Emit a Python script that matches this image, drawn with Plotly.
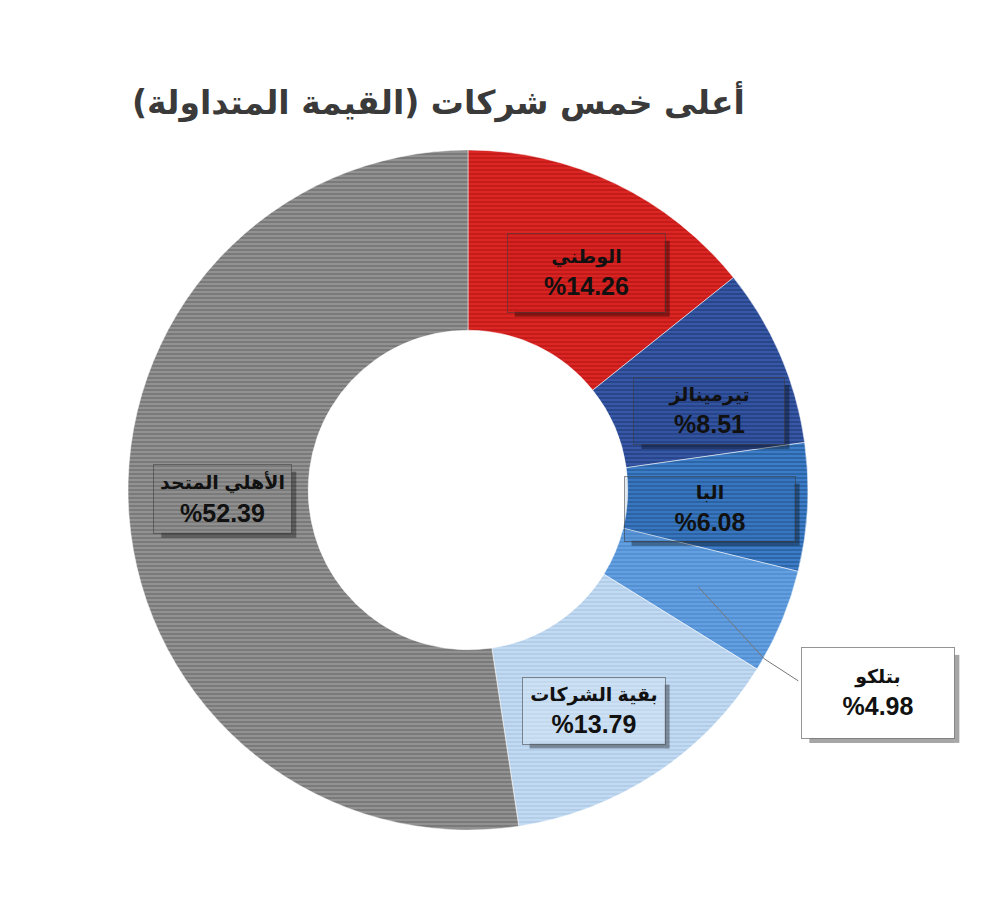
import math
import plotly.graph_objects as go

# ---- data ----
labels = ["الوطني", "تيرمينالز", "البا", "بتلكو", "بقية الشركات", "الأهلي المتحد"]
values = [14.26, 8.51, 6.08, 4.98, 13.79, 52.39]
title_text = "أعلى خمس شركات (القيمة المتداولة)"

# ---- style ----
colors = ["#dc2624", "#3658a6", "#3c7cc8", "#62a0e2", "#c2dbf3", "#929292"]
stripe = ["#b51514", "#213a78", "#22578f", "#4a86c8", "#a9c5e2", "#6a6a6a"]
box_bg = ["rgba(180,20,20,0.12)", "rgba(30,55,120,0.12)", "rgba(30,85,150,0.12)",
          "rgba(255,255,255,1)", "rgba(225,238,250,0.35)", "rgba(120,120,120,0.12)"]
box_w = [155, 148, 168, 150, 140, 135]
box_h = [76, 64, 62, 88, 64, 66]
shift = [(10, 8), (12, 20), (-8, 6), (0, 0), (-12, 12), (4, -10)]

W, H = 1000, 910
cx, cy, R = 468, 490, 340
hole = 0.47

fig = go.Figure(go.Pie(
    labels=labels, values=values, sort=False, direction="clockwise", rotation=0,
    hole=hole, textinfo="none", hoverinfo="label+percent", showlegend=False,
    marker=dict(colors=colors, line=dict(color="rgba(255,255,255,0.5)", width=1),
                pattern=dict(shape="-", fgcolor=stripe, bgcolor=colors, fillmode="overlay",
                             size=4, solidity=0.3, fgopacity=1)),
    domain=dict(x=[(cx - R) / W, (cx + R) / W], y=[1 - (cy + R) / H, 1 - (cy - R) / H]),
))

total = sum(values)
cum = 0
annotations = []
shapes = []
rmid = R * (1 + hole) / 2


def rect(x0, y0, x1, y1, color):
    return dict(type="rect", xref="paper", yref="paper", layer="above",
                x0=x0 / W, x1=x1 / W, y0=1 - y1 / H, y1=1 - y0 / H,
                fillcolor=color, line=dict(width=0))


for i, (lab, v) in enumerate(zip(labels, values)):
    mid = (cum + v / 2) / total * 2 * math.pi
    cum += v
    px = cx + rmid * math.sin(mid)
    py = cy - rmid * math.cos(mid)
    if i == 3:
        # outside label with leader line
        lx, ly = px + 180, py + 106
        ex, ey = px + 66, py + 72
        shapes.append(dict(type="path", xref="paper", yref="paper",
                           path=f"M {px/W},{1-py/H} L {ex/W},{1-ey/H} L {(ex+34)/W},{1-(ey+22)/H}",
                           line=dict(color="#777", width=1)))
    else:
        lx, ly = px + shift[i][0], py + shift[i][1]
    w, h = box_w[i], box_h[i]
    # shadow strips (right and bottom)
    shapes.append(rect(lx + w / 2 + 1, ly - h / 2 + 6, lx + w / 2 + 6, ly + h / 2 + 6,
                       "rgba(0,0,0,0.35)"))
    shapes.append(rect(lx - w / 2 + 6, ly + h / 2 + 1, lx + w / 2 + 1, ly + h / 2 + 6,
                       "rgba(0,0,0,0.35)"))
    txt = (f"<b><span style='font-size:19px'>{lab}</span></b><br>"
           f"<b>%{v:.2f}</b>")
    annotations.append(dict(x=lx / W, y=1 - ly / H, xref="paper", yref="paper",
                            xanchor="center", yanchor="middle",
                            text=txt, showarrow=False, width=w, height=h,
                            bgcolor=box_bg[i], bordercolor="rgba(60,60,60,0.55)", borderwidth=1,
                            font=dict(family="Liberation Sans, DejaVu Sans, Arial", size=25,
                                      color="#111")))

annotations.append(dict(x=438 / W, y=1 - 102 / H, xref="paper", yref="paper",
                        xanchor="center", yanchor="middle",
                        text="<b>\u200f" + title_text + "\u200f</b>", showarrow=False,
                        font=dict(family="DejaVu Sans, Arial", size=33, color="#3a3a3a")))

fig.update_layout(width=W, height=H, margin=dict(l=0, r=0, t=0, b=0),
                  paper_bgcolor="white", plot_bgcolor="white",
                  annotations=annotations, shapes=shapes)
fig.write_html("out.html")
